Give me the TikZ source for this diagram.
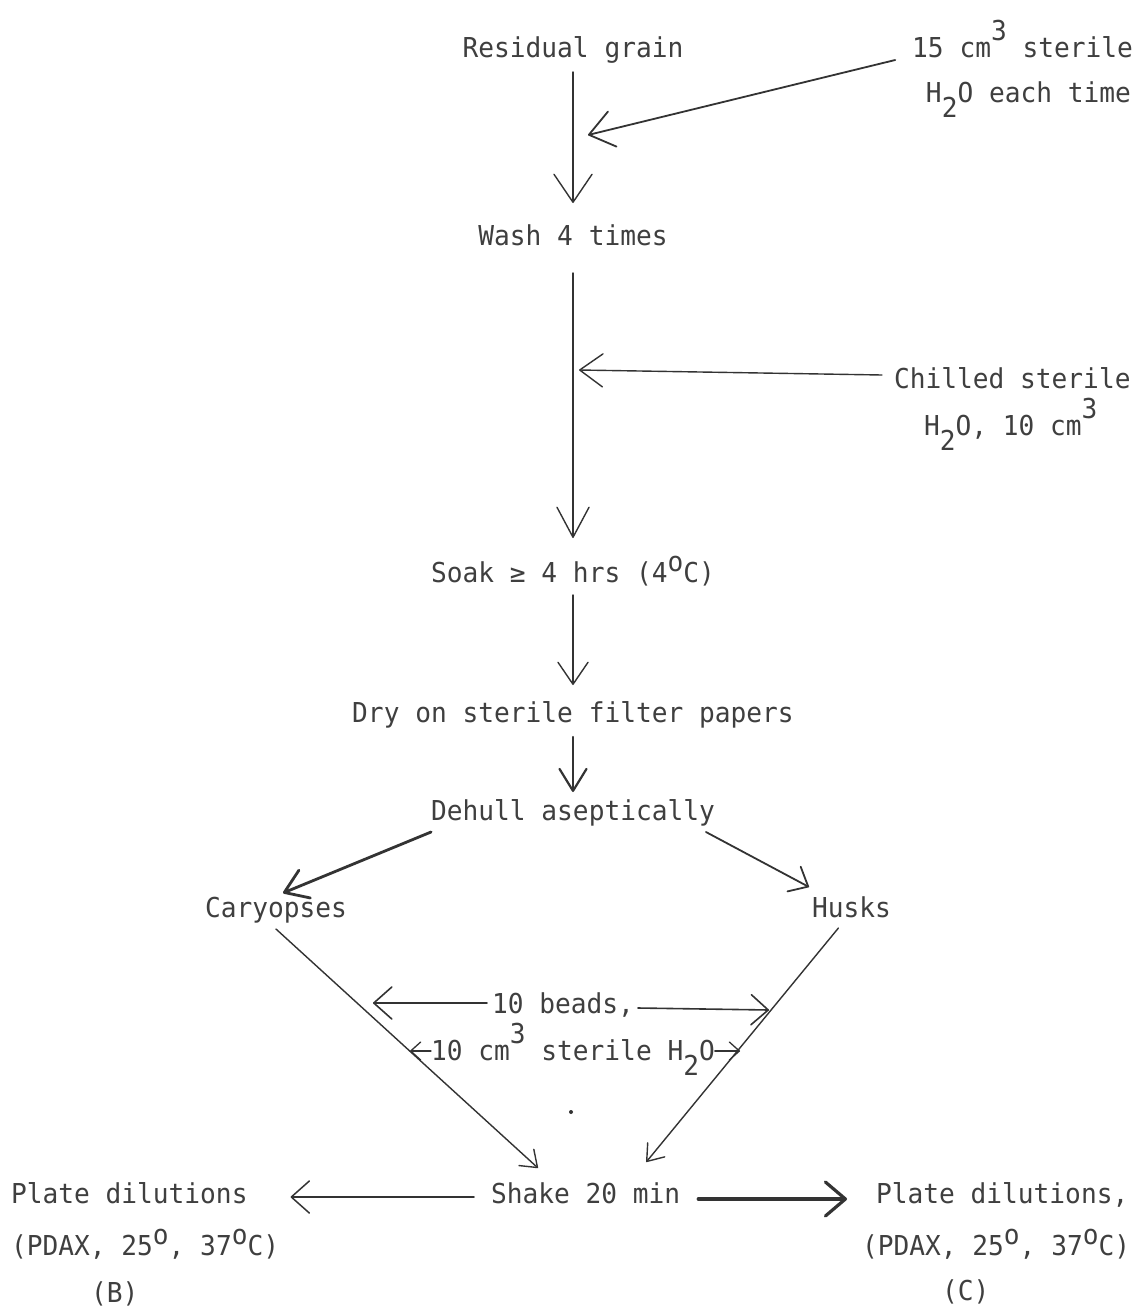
\documentclass[tikz,border=0pt]{standalone}
\usepackage{fontspec}
\usetikzlibrary{arrows.meta}
\newfontfamily\tw[FakeStretch=0.956]{DejaVu Sans Mono}
\newcommand{\up}[1]{\raisebox{0.62em}{#1}}
\newcommand{\dn}[1]{\raisebox{-0.57em}{#1}}
\newcommand{\dg}{\raisebox{0.4em}{o}}
\definecolor{ink}{HTML}{333333}
\definecolor{txt}{HTML}{3F3F3F}
\begin{document}
\begin{tikzpicture}[x=1pt,y=-1pt,
  lbl/.style={inner sep=0pt, outer sep=0pt, text height=19pt, text depth=6pt,
    font=\tw\fontsize{27.4}{31}\selectfont, text=txt},
  ln/.style={draw=ink, line width=1.4pt, line cap=round, line join=round},
  hd/.style 2 args={ln, -{Straight Barb[round,length=#1,width=#2]}}]
\fill[white] (0,0) rectangle (1140,1309);
\useasboundingbox (0,0) rectangle (1140,1309);

% nodes
\node[lbl, anchor=base] (res) at (573,57) {Residual grain};
\node[lbl, anchor=base east] (top15) at (1133,57) {15 cm\up{3} sterile};
\node[lbl, anchor=base east] (topH) at (1131,102) {H\dn{2}O each time};
\node[lbl, anchor=base] (wash) at (573,245) {Wash 4 times};
\node[lbl, anchor=base west] (chill) at (894,388) {Chilled sterile};
\node[lbl, anchor=base west] (chillH) at (924,435) {H\dn{2}O, 10 cm\up{3}};
\node[lbl, anchor=base] (soak) at (573,582) {Soak ≥ 4 hrs (4\dg C)};
\node[lbl, anchor=base] (dry) at (573,722) {Dry on sterile filter papers};
\node[lbl, anchor=base] (dehull) at (573,820) {Dehull aseptically};
\node[lbl, anchor=base west] (cary) at (205,917) {Caryopses};
\node[lbl, anchor=base west] (husks) at (812,917) {Husks};
\node[lbl, anchor=base west] (beads) at (492,1013) {10 beads,};
\node[lbl, anchor=base west] (water) at (431,1060) {10 cm\up{3} sterile H\dn{2}O};
\node[circle, fill=ink, inner sep=0pt, minimum size=4pt] (dot) at (571,1112) {};
\node[lbl, anchor=base west] (shake) at (491,1203) {Shake 20 min};
\node[lbl, anchor=base west] (plateL) at (11,1203) {Plate dilutions};
\node[lbl, anchor=base west] (pdaxL) at (11,1255) {(PDAX, 25\dg, 37\dg C)};
\node[lbl, anchor=base west] (bL) at (91,1302) {(B)};
\node[lbl, anchor=base west] (plateR) at (876,1203) {Plate dilutions,};
\node[lbl, anchor=base west] (pdaxR) at (862,1255) {(PDAX, 25\dg, 37\dg C)};
\node[lbl, anchor=base west] (cR) at (942,1300) {(C)};

% junction points on the main line
\coordinate (j1) at (588,135);
\coordinate (j2) at (579,370);
\coordinate (bl) at (373,1003);
\coordinate (br) at (769,1010);
\coordinate (wl) at (410,1051);
\coordinate (wr) at (740,1051);

% connectors
\draw[hd={28pt}{38pt}] ([shift={(0,9)}]res.south) -- ([shift={(0,-23)}]wash.north);
\draw[hd={24pt}{36pt}, line width=1.8pt] ([shift={(-17,9.5)}]top15.west) -- (j1);
\draw[hd={30pt}{32pt}] ([shift={(0,22)}]wash.south) -- ([shift={(0,-25)}]soak.north);
\draw[hd={23pt}{33pt}] ([shift={(-12,-6.5)}]chill.west) -- (j2);
\draw[hd={22pt}{30pt}] ([shift={(0,7)}]soak.south) -- ([shift={(0,-18)}]dry.north);
\draw[hd={22pt}{27pt}, line width=2.2pt] ([shift={(0,9)}]dry.south) -- ([shift={(0,-9)}]dehull.north);
\draw[hd={22pt}{30pt}, line width=2.8pt] ([shift={(0,6)}]dehull.south west) -- ([shift={(78,-5)}]cary.north west);
\draw[hd={16pt}{28pt}, line width=1.8pt] ([shift={(-9,6)}]dehull.south east) -- ([shift={(-3,-11)}]husks.north west);
\draw[hd={15pt}{22pt}] ([shift={(0,6)}]cary.south) -- ([shift={(47,-16)}]shake.north west);
\draw[hd={15pt}{22pt}] ([shift={(-13,5)}]husks.south) -- ([shift={(-34,-22)}]shake.north east);
\draw[hd={18pt}{32pt}, line width=1.6pt] ([shift={(-5,-3.5)}]beads.west) -- (bl);
\draw[hd={17pt}{30pt}, line width=1.6pt] ([shift={(4,1.5)}]beads.east) -- (br);
\draw[hd={10pt}{18pt}, line width=1.3pt] ([shift={(0,-2.5)}]water.west) -- (wl);
\draw[hd={10pt}{18pt}, line width=1.3pt] ([shift={(0,-2.5)}]water.east) -- (wr);
\draw[hd={18pt}{32pt}, line width=1.5pt] ([shift={(-17,0.5)}]shake.west) -- ([shift={(43,0.5)}]plateL.east);
\draw[hd={20pt}{34pt}, line width=3.2pt] ([shift={(18,2.5)}]shake.east) -- ([shift={(-29,2.5)}]plateR.west);
\end{tikzpicture}
\end{document}
